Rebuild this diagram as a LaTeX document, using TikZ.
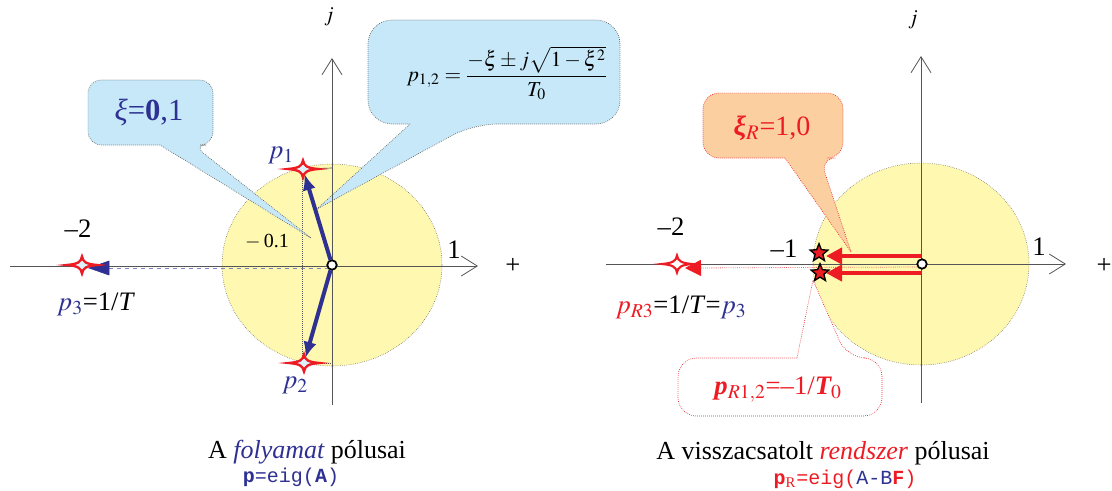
\documentclass[tikz,border=0pt]{standalone}
\usepackage{mathptmx}
\usepackage[no-math]{fontspec}
\setmainfont{Liberation Serif}
\setmonofont{Liberation Mono}
\usetikzlibrary{arrows.meta, shapes.geometric}
\definecolor{polBlue}{HTML}{2E3192}
\definecolor{polRed}{HTML}{ED1C24}
\definecolor{polSky}{HTML}{C6E8F8}
\definecolor{polSun}{HTML}{FFF8B0}
\definecolor{polPeach}{HTML}{FBCF9F}
\definecolor{polAxis}{HTML}{555555}
\newcommand{\fsz}[1]{\fontsize{#1}{#1}\selectfont}

\tikzset{
  planeaxis/.style={draw=polAxis, line width=0.6pt, -{Straight Barb[length=12pt,width=15pt]}},
  unitdisc/.style={fill=polSun, draw=polAxis, densely dotted, line width=0.4pt},
  guide/.style={draw=polAxis, densely dotted, line width=0.5pt},
  origin/.style={circle, draw=black, fill=white, line width=1.2pt, minimum size=7pt, inner sep=0pt},
  procarrow/.style={draw=polBlue, line width=3pt, -{Latex[length=12pt,width=10pt]}, shorten >=4pt},
  clarrow/.style={draw=polRed, line width=3pt, -{Triangle[length=12pt,width=12pt]}},
  clstar/.style={star, star points=5, star point ratio=2.3, draw=black, fill=polRed,
    line width=1pt, minimum size=14pt, inner sep=0pt},
  bubble/.style={line width=0.5pt, densely dotted},
  lbl/.style={font=\fsz{20}, inner sep=0pt},
  fourstar/.pic={
    \path[pic actions] (-15,0) .. controls (-4,-1) and (-1,-3) .. (0,-8.5)
      .. controls (1,-3) and (4,-1) .. (15,0)
      .. controls (4,1) and (1,3) .. (0,8.5)
      .. controls (-1,3) and (-4,1) .. (-15,0) -- cycle;
  }
}

\begin{document}
\begin{tikzpicture}[x=0.75pt, y=-0.75pt]
  \useasboundingbox (0,0) rectangle (1112,490);

  % ---- process poles (left plane)
  \path[unitdisc] (332,265) ellipse [x radius=110, y radius=101];
  \coordinate (p1) at (303,169);
  \coordinate (p2) at (304,363);
  \coordinate (p3) at (82,265);
  \draw[guide] (302,169) -- (302,363);
  \draw[polAxis, line width=0.5pt] (p1) -- (332,168);
  \draw[guide] (p2) -- (332,363);

  % callouts
  \path[bubble, fill=polSky, draw=polAxis] (160,145) [rounded corners=10] -- (88,145)
    -- (88,80) -- (213,80) -- (213,145) -- (193,145) [sharp corners] -- (311,238) -- cycle;
  \node[text=polBlue, font=\fsz{23}, inner sep=0pt] (xiproc) at (149,112) {\textit{ξ}=\textbf{0},1};
  \path[bubble, fill=polSky, draw=polAxis] (410,124) [rounded corners=18] -- (368,124)
    -- (368,20) -- (620,20) -- (620,124) -- (473,124) [sharp corners] -- (317,209) -- cycle;
  \node[font=\fsz{16}, inner sep=0pt] (formula) at (507,73)
    {$p_{1,2}=\displaystyle\frac{-\xi\pm j\sqrt{1-\xi^{2}}}{T_{0}}$};

  % axes
  \coordinate (hl0) at (10,266);
  \coordinate (hl1) at (478,266);
  \coordinate (vl0) at (332,405);
  \coordinate (vl1) at (332,58);
  \draw[planeaxis] (hl0) -- (hl1);
  \draw[planeaxis] (vl0) -- (vl1);
  \node[font=\fsz{16}] (jl) at (329,17) {$j$};
  \node[lbl] (onel) at (454,250) {1};
  \node[lbl] (plusl) at (513,266) {+};
  \node[lbl] (m2l) at (78,229) {–2};
  \node[font=\fsz{15}, inner sep=0pt] (m01) at (267,242) {$-$\,0.1};

  % pole shifts
  \node[origin] (o1) at (332,265) {};
  \coordinate (o1s) at (328,268);
  \coordinate (p3e) at (88,268);
  \draw[draw=polBlue!60, dashed, line width=0.5pt, {Triangle[length=16pt,width=11pt,color=polBlue]}-]
    (p3e) -- (o1s);
  \draw[procarrow] (o1) -- (p1);
  \draw[procarrow] (o1) -- (p2);
  \node[origin] at (o1) {};
  \pic[draw=polRed, fill=polSky!60, line width=1.8pt] at (p1) {fourstar};
  \pic[draw=polRed, fill=polSky!60, line width=1.8pt] at (p2) {fourstar};
  \pic[draw=polRed, fill=polSky!60, line width=1.8pt] at (p3) {fourstar};
  \node[lbl, text=polBlue] (p1l) at (281,155) {$p_{1}$};
  \node[lbl, text=polBlue] (p2l) at (295,385) {$p_{2}$};
  \node[lbl] (p3l) at (96,304) {\textcolor{polBlue}{$p_{3}$}=1/\textit{T}};

  \node[font=\fsz{19.5}, inner sep=0pt] (capl) at (307,452) {A \textit{\textcolor{polBlue}{folyamat}} pólusai};
  \node[font=\fsz{15}, text=polBlue, inner sep=0pt] (eigl) at (291,477) {\texttt{\textbf{p}=eig(\textbf{A})}};

  % ---- closed-loop poles (right plane)
  \path[unitdisc] (921,264) ellipse [x radius=108, y radius=101];

  \path[bubble, fill=polPeach, draw=polRed] (785,158) [rounded corners=12] -- (703,158)
    -- (703,93) -- (843,93) -- (843,158) -- (820,158) [sharp corners] -- (851,252) -- cycle;
  \node[text=polRed, font=\fsz{21}, inner sep=0pt] (xicl) at (772,128) {{\bfseries\itshape ξ}$_{R}$=1,0};
  \path[bubble, fill=white, draw=polRed] (797,358) [rounded corners=14] -- (678,358)
    -- (678,416) -- (882,416) -- (882,358) -- (847,358) [sharp corners] -- (813,280) -- cycle;
  \node[text=polRed, font=\fsz{20}, inner sep=0pt] (pcl) at (778,390)
    {{\bfseries\itshape p}$_{R1,2}$=–1/{\bfseries\itshape T}$_{0}$};

  \coordinate (hr0) at (606,264);
  \coordinate (hr1) at (1066,264);
  \coordinate (vr0) at (921,403);
  \coordinate (vr1) at (921,56);
  \draw[planeaxis] (hr0) -- (hr1);
  \draw[planeaxis] (vr0) -- (vr1);
  \node[font=\fsz{16}] (jr) at (913,20) {$j$};
  \node[lbl] (oner) at (1039,247) {1};
  \node[lbl] (plusr) at (1104,266) {+};
  \node[lbl] (m2r) at (671,227) {–2};
  \node[lbl] (m1r) at (784,249) {–1};

  \node[origin] (o2) at (922,264) {};
  \coordinate (pr3) at (677,264);
  \coordinate (o2s) at (918,267);
  \coordinate (pr3e) at (685,268);
  \draw[draw=polRed!70, densely dotted, line width=0.6pt, {Triangle[length=12pt,width=12pt,color=polRed]}-] (pr3e) -- (o2s);
  \pic[draw=polRed, fill=white, line width=1.6pt] at (pr3) {fourstar};
  \node[clstar] (s1) at (819,253) {};
  \node[clstar] (s2) at (820,273) {};
  \coordinate (r1s) at (921,256);
  \coordinate (r1e) at (826,256);
  \coordinate (r2s) at (921,273);
  \coordinate (r2e) at (826,273);
  \draw[clarrow] (r1s) -- (r1e);
  \draw[clarrow] (r2s) -- (r2e);
  \node[origin] at (o2) {};
  \node[lbl] (pr3l) at (681,307) {\textcolor{polRed}{$p_{R3}$}=1/\textit{T}=\textcolor{polBlue}{$p_{3}$}};

  \node[font=\fsz{19.5}, inner sep=0pt] (capr) at (823,453) {A visszacsatolt \textit{\textcolor{polRed}{rendszer}} pólusai};
  \node[font=\fsz{15}, text=polRed, inner sep=0pt] (eigr) at (845,479)
    {\texttt{\textbf{p}\textsubscript{\rmfamily R}=eig(\textcolor{polBlue}{A-B}\textbf{F})}};
\end{tikzpicture}
\end{document}
